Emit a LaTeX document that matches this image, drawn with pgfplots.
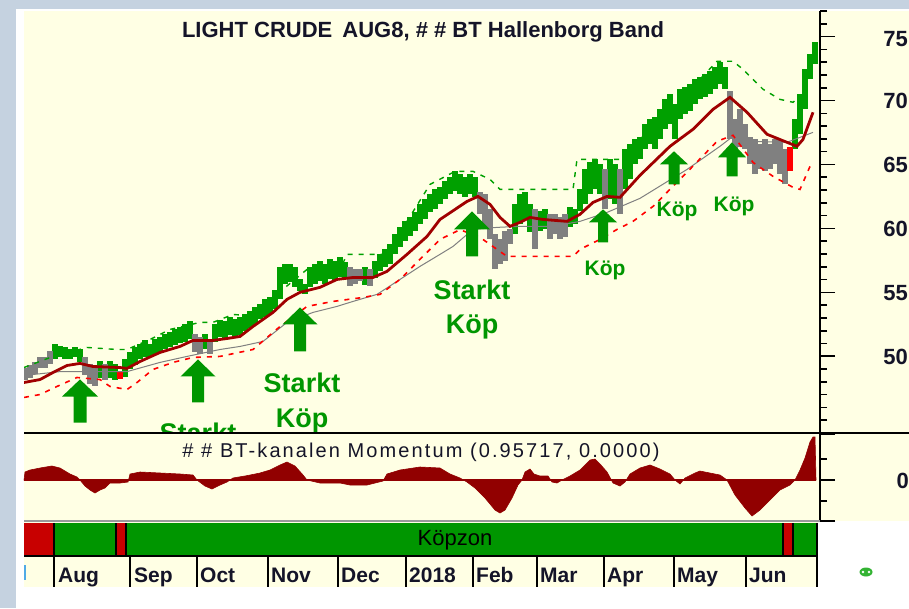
\documentclass[border=0pt]{standalone}
\usepackage{fontspec}
\setmainfont{Liberation Sans}
\usepackage{pgfplots}
\usepackage{pgfplotstable}
\pgfplotsset{compat=1.18}

\definecolor{outerblue}{RGB}{197,210,224}
\definecolor{cream}{RGB}{255,255,228}
\definecolor{pgreen}{RGB}{0,160,0}
\definecolor{pgrey}{RGB}{128,128,128}
\definecolor{pred}{RGB}{255,0,0}
\definecolor{cred}{RGB}{160,0,0}
\definecolor{mred}{RGB}{145,0,0}
\definecolor{zgreen}{RGB}{0,150,0}
\definecolor{zred}{RGB}{200,0,0}
\definecolor{agreen}{RGB}{0,150,0}
\definecolor{txt}{RGB}{20,20,40}
\definecolor{markblue}{RGB}{80,170,230}

\pgfplotstableread{
x y e
55 50.34 0.59
60 50.34 0.43
65 50.22 0.47
70 50.14 0.39
75 50.30 0.39
80 50.06 0.47
100 48.97 0.63
110 48.97 0.63
115 48.77 0.59
125 49.05 0.70
130 49.67 0.70
135 50.02 0.67
140 50.34 0.59
145 50.61 0.70
150 50.42 0.51
155 50.73 0.59
160 50.92 0.55
165 51.12 0.59
170 51.28 0.59
175 51.51 0.59
180 51.63 0.63
185 51.82 0.67
190 52.02 0.70
205 51.12 0.59
215 51.82 0.67
220 52.17 0.70
225 52.02 0.70
230 52.37 0.67
235 52.21 0.67
240 52.37 0.67
245 52.61 0.67
250 52.88 0.63
255 53.15 0.67
260 53.47 0.59
265 53.74 0.70
270 53.94 0.67
275 54.44 0.78
280 55.70 1.25
285 56.40 0.78
290 56.48 0.70
295 56.17 0.78
300 55.54 0.47
305 55.23 0.39
310 56.17 0.78
315 56.40 0.78
320 56.64 0.78
325 56.40 0.78
330 56.79 0.78
335 56.64 0.78
340 56.95 0.78
345 56.71 0.70
365 56.28 0.67
375 56.79 0.63
380 57.30 0.67
385 57.65 0.70
390 57.97 0.78
395 58.75 0.78
400 59.30 0.78
405 59.77 0.78
410 60.12 0.74
415 60.51 0.74
420 61.10 0.78
425 61.49 0.78
430 61.96 0.70
435 62.27 0.78
440 62.54 0.67
445 62.97 0.70
450 63.33 0.67
455 63.68 0.78
460 63.44 0.78
465 63.21 0.78
470 63.44 0.78
475 63.21 0.78
515 60.70 1.17
520 61.49 1.17
525 61.76 1.06
530 60.78 1.10
540 60.55 0.78
545 60.70 0.78
570 60.86 0.78
575 60.90 0.59
580 62.19 0.86
585 63.25 1.37
590 63.91 1.25
595 64.23 1.17
600 63.83 1.17
610 63.83 1.56
615 63.44 1.56
625 64.62 1.56
630 65.20 1.37
635 65.99 0.98
640 66.26 0.86
645 67.16 0.98
650 67.55 0.98
655 67.43 1.25
660 68.14 1.17
665 68.92 1.17
670 69.31 1.17
675 68.33 1.37
680 69.70 1.17
685 69.98 1.06
690 70.21 1.06
695 70.68 0.98
700 70.96 0.86
705 71.15 0.90
710 71.39 0.90
715 71.74 0.86
720 72.13 0.86
725 71.74 0.86
795 67.36 1.17
800 68.92 1.56
805 70.88 1.56
810 72.64 0.98
815 73.69 0.86
}\pricegreen

\pgfplotstableread{
x y e
25 48.65 0.47
30 48.81 0.47
35 49.12 0.47
40 49.55 0.43
45 49.55 0.43
50 49.87 0.51
85 49.24 0.67
90 48.58 0.78
95 48.38 0.74
105 48.77 0.59
195 51.04 0.67
200 50.81 0.67
210 50.73 0.59
350 56.21 0.74
355 56.21 0.59
360 56.32 0.47
370 56.13 0.67
480 61.96 0.86
485 61.29 1.37
490 60.31 1.17
495 58.16 1.37
500 58.16 0.98
505 58.59 1.17
510 59.34 0.59
535 59.92 1.56
550 60.12 0.98
555 60.31 0.78
560 60.00 0.86
565 60.20 0.90
605 63.05 1.56
620 62.86 1.76
730 68.84 1.88
735 67.36 1.17
740 67.83 1.49
745 67.16 0.98
750 66.07 1.06
755 65.60 1.37
760 65.60 0.98
765 65.71 1.25
770 65.60 0.98
775 65.99 0.98
780 65.60 1.37
785 64.81 1.37
}\pricegrey

\pgfplotstableread{
x y e
120 48.50 0.31
790 65.40 0.94
}\pricered

\pgfplotstableread{
x m
24 0
25 8
30 10
40 12
52 14
60 12
70 6
77 3
80 0
85 -6
90 -10
95 -13
100 -10
105 -8
110 -3
120 -3
128 -2
130 6
140 8
160 7
180 6
193 5
197 0
205 -6
212 -9
220 -5
227 -2
233 2
245 4
260 7
270 10
280 15
287 18
295 14
303 5
307 0
320 -3
340 -3
350 -5
367 -5
383 -1
387 6
400 10
420 13
440 12
450 6
460 2
467 -2
475 -8
485 -18
495 -30
500 -33
505 -30
512 -18
518 -5
522 0
525 8
530 11
534 6
540 4
548 4
552 -2
557 -3
562 0
570 4
580 10
590 20
595 21
600 16
607 8
613 -3
620 -6
625 -2
630 6
640 12
650 15
660 11
670 6
675 0
680 -4
685 2
695 7
700 9
710 7
720 5
727 0
735 -15
745 -28
752 -36
760 -30
770 -20
780 -10
790 -5
795 0
800 10
805 22
810 38
813 43
815 43
816 0
}\momentum

\pgfplotsset{pricebars/.style={draw=none, mark=none, forget plot,
  error bars/.cd, y dir=both, y explicit, error mark=none,
  error bar style={draw=#1, solid, line width=5.4pt}}}

\begin{document}
\begin{tikzpicture}[x=1pt,y=1pt]
\fill[outerblue] (0,0) rectangle (909,-608);
\fill[white] (16,-9) rectangle (909,-608);
\fill[cream] (24,-11) rectangle (909,-521);
\fill[cream] (24,-521) rectangle (818,-587);

% ---------------- main price panel
\begin{axis}[
  at={(24pt,-11pt)}, anchor=north west, scale only axis,
  width=796pt, height=422pt,
  xmin=24, xmax=820, ymin=44, ymax=77,
  axis x line=none, axis y line*=right,
  axis line style={black, line width=1.6pt},
  ytick={50,55,...,75}, minor ytick={44,...,77}, yticklabels={},
  tick align=outside, major tick length=15pt, minor tick length=7pt,
  tick style={black, line width=1.6pt},
  clip=true,
]
\addplot[pricebars=pgreen] table[x=x, y=y, y error=e] {\pricegreen};
\addplot[pricebars=pgrey] table[x=x, y=y, y error=e] {\pricegrey};
\addplot[pricebars=pred] table[x=x, y=y, y error=e] {\pricered};

% grey thin line
\addplot[pgrey, line width=1pt] coordinates {
(24,48.5) (60,48.8) (100,48.8) (127,48.8) (160,49.52) (187,49.99) (220,50.53) (240,50.77) (263,51.16) (287,52.65) (313,53.43) (337,53.90) (353,54.29) (377,54.84) (400,56.01) (420,57.03) (440,57.97) (453,58.59) (473,59.92) (497,60.08) (520,60.16) (553,60.16) (580,60.55) (607,61.25) (640,62.35) (687,64.61) (720,66.42) (733,67.20) (750,66.81) (787,66.73) (813,67.51)};
% lower band
\addplot[pred, line width=1.6pt, dash pattern=on 5pt off 6pt] coordinates {
(24,46.78) (40,47.01) (57,47.64) (77,48.34) (100,48.18) (110,47.64) (127,47.40) (137,47.95) (153,48.97) (173,49.52) (193,49.91) (220,49.99) (253,50.53) (280,52.33) (307,53.90) (333,54.29) (363,54.60) (380,54.84) (400,56.01) (420,57.58) (440,59.14) (460,59.9) (480,59.3) (497,58.36) (507,57.81) (573,57.81) (580,58.36) (600,59.14) (617,59.92) (633,60.55) (653,61.72) (685,64.23) (717,66.81) (733,67.28) (753,65.16) (773,64.07) (793,63.21) (800,63.05) (810,64.85)};
% upper band
\addplot[pgreen, line width=1.4pt, dash pattern=on 5pt off 6pt] coordinates {
(24,49.12) (50,49.9) (87,50.69) (117,50.53) (127,50.53) (150,51.31) (170,52.10) (200,52.65) (213,52.65) (233,53.27) (260,53.12) (287,55.5) (307,56.79) (340,56.79) (347,57.97) (387,57.97) (405,60.3) (430,63.44) (455,64.46) (473,64.46) (490,63.83) (500,63.05) (573,63.05) (577,65.40) (620,65.40) (640,66.96) (670,69.31) (700,71.66) (717,73.07) (733,73.07) (743,72.44) (763,70.88) (780,70.09) (793,69.86) (800,70.33)};
% centre line
\addplot[cred, line width=2.8pt] coordinates {
(24,47.95) (40,48.18) (53,48.73) (67,49.28) (80,49.44) (93,49.20) (120,49.12) (127,49.05) (140,49.59) (160,50.30) (180,50.77) (193,51.24) (213,51.24) (227,51.39) (240,51.55) (253,52.33) (273,53.43) (287,54.45) (300,55.00) (320,55.39) (337,56.01) (353,56.16) (373,56.16) (387,56.64) (407,57.97) (427,59.37) (440,60.70) (467,62.11) (478,62.50) (490,61.88) (500,60.86) (510,60.16) (520,60.47) (530,60.86) (543,60.70) (567,60.55) (580,61.10) (593,62.03) (607,62.50) (620,62.43) (630,63.29) (640,64.15) (670,66.42) (693,67.75) (713,69.31) (730,70.25) (747,69.08) (767,67.36) (787,66.73) (797,66.42) (803,66.96) (813,69.08)};

% signal arrows
\fill[agreen] (axis cs:80,48.19) -- (axis cs:98,46.85) -- (axis cs:86.5,46.85) -- (axis cs:86.5,44.82) -- (axis cs:73.5,44.82) -- (axis cs:73.5,46.85) -- (axis cs:62,46.85) -- cycle;
\fill[agreen] (axis cs:198,49.75) -- (axis cs:215.5,48.42) -- (axis cs:204,48.42) -- (axis cs:204,46.39) -- (axis cs:192,46.39) -- (axis cs:192,48.42) -- (axis cs:180.5,48.42) -- cycle;
\fill[agreen] (axis cs:300,53.82) -- (axis cs:317.5,52.49) -- (axis cs:306,52.49) -- (axis cs:306,50.38) -- (axis cs:294,50.38) -- (axis cs:294,52.49) -- (axis cs:282.5,52.49) -- cycle;
\fill[agreen] (axis cs:472,61.33) -- (axis cs:490,59.92) -- (axis cs:478,59.92) -- (axis cs:478,57.81) -- (axis cs:466,57.81) -- (axis cs:466,59.92) -- (axis cs:454,59.92) -- cycle;
\fill[agreen] (axis cs:603,61.49) -- (axis cs:617,60.47) -- (axis cs:608,60.47) -- (axis cs:608,58.90) -- (axis cs:598,58.90) -- (axis cs:598,60.47) -- (axis cs:589,60.47) -- cycle;
\fill[agreen] (axis cs:674,66.03) -- (axis cs:688,65.01) -- (axis cs:679.5,65.01) -- (axis cs:679.5,63.44) -- (axis cs:668.5,63.44) -- (axis cs:668.5,65.01) -- (axis cs:660,65.01) -- cycle;
\fill[agreen] (axis cs:732,66.73) -- (axis cs:746,65.56) -- (axis cs:737.5,65.56) -- (axis cs:737.5,64.07) -- (axis cs:726.5,64.07) -- (axis cs:726.5,65.56) -- (axis cs:718,65.56) -- cycle;

\begin{scope}[every node/.style={text=agreen, font=\bfseries\fontsize{27}{27}\selectfont, anchor=base, inner sep=0pt}]
\node at (axis cs:198,43.22) {Starkt};
\node at (axis cs:302,47.17) {Starkt};
\node at (axis cs:302,44.43) {Köp};
\node at (axis cs:472,54.44) {Starkt};
\node at (axis cs:472,51.78) {Köp};
\end{scope}
\begin{scope}[every node/.style={text=agreen, font=\bfseries\fontsize{21}{21}\selectfont, anchor=base, inner sep=0pt}]
\node at (axis cs:605,56.32) {Köp};
\node at (axis cs:677,60.94) {Köp};
\node at (axis cs:734,61.33) {Köp};
\end{scope}
\end{axis}

% ---------------- momentum panel
\begin{axis}[
  at={(24pt,-433pt)}, anchor=north west, scale only axis,
  width=796pt, height=88pt,
  xmin=24, xmax=820, ymin=-41, ymax=47,
  axis x line=none, axis y line*=right,
  axis line style={black, line width=1.6pt},
  ytick={-41,0,46}, yticklabels={}, minor ytick={-21,21},
  tick align=outside, major tick length=15pt, minor tick length=7pt,
  tick style={black, line width=1.6pt},
  clip=false,
]
\addplot[fill=mred, draw=mred, line width=0.6pt] table[x=x, y=m] {\momentum} \closedcycle;
\addplot[mred, line width=1.5pt] coordinates {(24,0) (816,0)};
\node[text=txt, font=\fontsize{20}{20}\selectfont\addfontfeature{LetterSpace=10.5}, anchor=center] at (axis cs:421,28) {\# \# BT-kanalen Momentum (0.95717, 0.0000)};
\end{axis}

% ---------------- zone bar and months
\begin{axis}[
  at={(24pt,-521pt)}, anchor=north west, scale only axis,
  width=796pt, height=66pt,
  xmin=24, xmax=820, ymin=-66, ymax=0,
  axis lines=none, clip=false,
]
\fill[zred] (axis cs:24,-2) rectangle (axis cs:54,-35);
\fill[zgreen] (axis cs:54,-2) rectangle (axis cs:116,-35);
\fill[zred] (axis cs:116,-2) rectangle (axis cs:126,-35);
\fill[zgreen] (axis cs:126,-2) rectangle (axis cs:783,-35);
\fill[zred] (axis cs:783,-2) rectangle (axis cs:793,-35);
\fill[zgreen] (axis cs:793,-2) rectangle (axis cs:817,-35);
\pgfplotsinvokeforeach{54,116,126,783,793,817}{\draw[black, line width=1.4pt] (axis cs:#1,-2) -- (axis cs:#1,-35);}
\draw[black, line width=2.4pt] (axis cs:24,-35) -- (axis cs:818,-35);
\node[text=black, font=\fontsize{22}{22}\selectfont, anchor=center] at (axis cs:455,-19) {Köpzon};
\pgfplotsinvokeforeach{54,130,197,268,338,406,473,537,604,674,746,817}{\draw[black, line width=1.8pt] (axis cs:#1,-35) -- (axis cs:#1,-66);}
\begin{scope}[every node/.style={text=txt, font=\bfseries\fontsize{21}{21}\selectfont, anchor=base west, inner sep=0pt}]
\node at (axis cs:58,-61) {Aug};
\node at (axis cs:134,-61) {Sep};
\node at (axis cs:200,-61) {Oct};
\node at (axis cs:271,-61) {Nov};
\node at (axis cs:341,-61) {Dec};
\node at (axis cs:409,-61) {2018};
\node at (axis cs:476,-61) {Feb};
\node at (axis cs:540,-61) {Mar};
\node at (axis cs:607,-61) {Apr};
\node at (axis cs:677,-61) {May};
\node at (axis cs:749,-61) {Jun};
\end{scope}
\end{axis}

\node[text=txt, font=\bfseries\fontsize{22}{22}\selectfont, anchor=center] at (423,-32) {LIGHT CRUDE\hspace{4pt} AUG8, \# \# BT Hallenborg Band};

% right-hand scale labels
\begin{scope}[every node/.style={text=txt, font=\bfseries\fontsize{22}{22}\selectfont, anchor=east, inner sep=0pt}]
\node at (908,-39) {75};
\node at (908,-101) {70};
\node at (908,-165) {65};
\node at (908,-229) {60};
\node at (908,-293) {55};
\node at (908,-357) {50};
\node at (909,-481) {0};
\end{scope}

\draw[black, line width=2pt] (24,-433) -- (909,-433);
\draw[pgrey!80, line width=1.4pt] (24,-521) -- (820,-521);
\draw[markblue, line width=1.5pt] (25,-565) -- (25,-580);
\fill[pgreen!80] (866,-572) ellipse (6.5pt and 4.5pt);
\fill[white] (863,-572) circle (1.3pt);
\fill[white] (869,-572) circle (1.3pt);

\pgfresetboundingbox
\useasboundingbox (0,0) rectangle (909,-608);
\end{tikzpicture}
\end{document}
